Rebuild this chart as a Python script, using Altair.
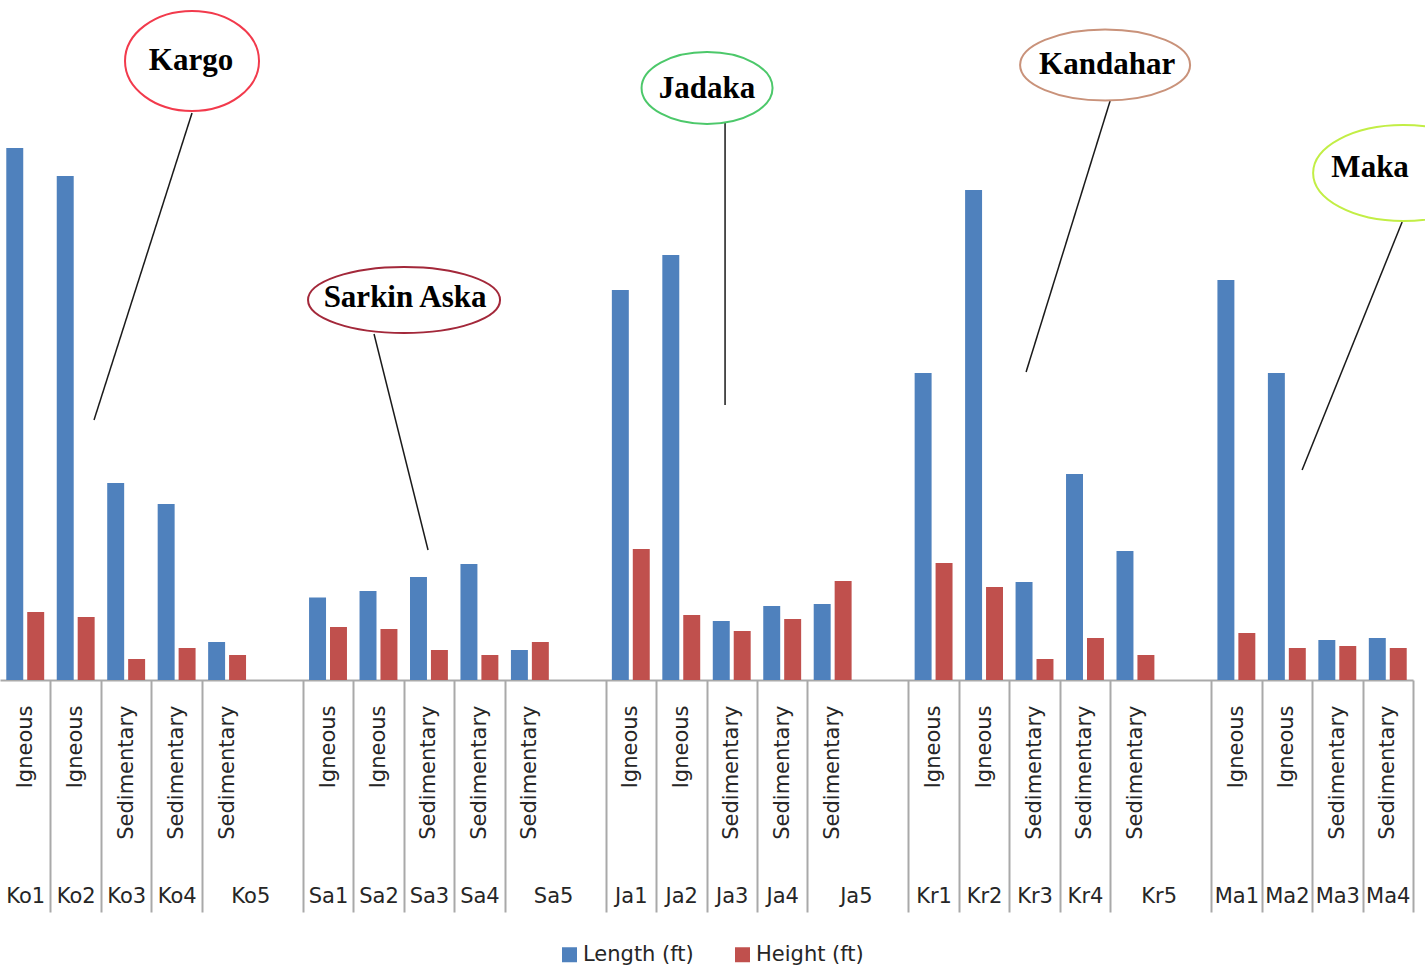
import json
import altair as alt
import pandas as pd

# ---------------- data ----------------
sites = ["Ko1", "Ko2", "Ko3", "Ko4", "Ko5",
         "Sa1", "Sa2", "Sa3", "Sa4", "Sa5",
         "Ja1", "Ja2", "Ja3", "Ja4", "Ja5",
         "Kr1", "Kr2", "Kr3", "Kr4", "Kr5",
         "Ma1", "Ma2", "Ma3", "Ma4"]
rock_types = ["Igneous", "Igneous", "Sedimentary", "Sedimentary", "Sedimentary",
              "Igneous", "Igneous", "Sedimentary", "Sedimentary", "Sedimentary",
              "Igneous", "Igneous", "Sedimentary", "Sedimentary", "Sedimentary",
              "Igneous", "Igneous", "Sedimentary", "Sedimentary", "Sedimentary",
              "Igneous", "Igneous", "Sedimentary", "Sedimentary"]
length_ft = [106.4, 100.8, 39.4, 35.2, 7.6,
             16.5, 17.8, 20.6, 23.2, 6.0,
             78.0, 85.0, 11.8, 14.8, 15.2,
             61.4, 98.0, 19.6, 41.2, 25.8,
             80.0, 61.4, 8.0, 8.4]
height_ft = [13.6, 12.6, 4.2, 6.4, 5.0,
             10.6, 10.2, 6.0, 5.0, 7.6,
             26.2, 13.0, 9.8, 12.2, 19.8,
             23.4, 18.6, 4.2, 8.4, 5.0,
             9.4, 6.4, 6.8, 6.4]
series = ["Length (ft)", "Height (ft)"]
series_colors = ["#4f81bd", "#c0504d"]

# location call-outs
locations = ["Kargo", "Sarkin Aska", "Jadaka", "Kandahar", "Maka"]
loc_colors = ["#f23a4c", "#a3283a", "#4cc86a", "#c9927a", "#c2ee45"]

# ---------------- layout (slot units on x, feet on y) ----------------
SLOT = 50.46
W, H = 1413, 680
YMAX = 136.0

def ux(px):
    return px / SLOT

def vy(py):
    return (H - py) * YMAX / H

ell_center = [(192, 61), (404, 300), (707, 88), (1105, 65), (1403, 173)]
ell_radii = [(67, 50), (96, 33), (65.5, 36), (85, 35.5), (90, 48)]
txt_center = [(191, 61), (405, 298), (707, 89), (1107, 65), (1370, 168)]
callouts = [((192, 113), (94, 420)), ((374, 334), (428, 550)), ((725, 122), (725, 405)),
            ((1110, 101), (1026, 372)), ((1402, 222), (1302, 470))]

# ---------------- tables ----------------
slots = []
inner_labels = []
outer_labels = []
gaps = []
fifths = []
for i, s in enumerate(sites):
    slots.append(s)
    inner_labels.append(rock_types[i])
    outer_labels.append(s)
    if i % 5 == 4 and i < 20:
        g = f"gap{i // 5 + 1}"
        slots.append(g)
        inner_labels.append("")
        outer_labels.append("")
        gaps.append(g)
        fifths.append(s)

rows = []
for i, s in enumerate(sites):
    rows.append({"slot": s, "series": series[0], "value": length_ft[i]})
    rows.append({"slot": s, "series": series[1], "value": height_ft[i]})
df = pd.DataFrame(rows)

ell_df = pd.DataFrame({
    "name": locations,
    "u": [ux(c[0]) for c in ell_center],
    "v": [vy(c[1]) for c in ell_center],
    "sz": [(2 * r[0]) ** 2 for r in ell_radii],
    "col": loc_colors,
})
ell_paths = [f"M-1,0A1,{r[1] / r[0]:.4f} 0 1,0 1,0A1,{r[1] / r[0]:.4f} 0 1,0 -1,0Z" for r in ell_radii]
txt_df = pd.DataFrame({
    "name": locations,
    "u": [ux(c[0]) for c in txt_center],
    "v": [vy(c[1]) for c in txt_center],
})
rule_df = pd.DataFrame({
    "u": [ux(a[0]) for a, b in callouts],
    "v": [vy(a[1]) for a, b in callouts],
    "u2": [ux(b[0]) for a, b in callouts],
    "v2": [vy(b[1]) for a, b in callouts],
})

# ---------------- scales / axes ----------------
xscale = alt.Scale(domain=slots, paddingInner=0, paddingOuter=0)
yscale = alt.Scale(domain=[0, YMAX], nice=False, zero=True)
uscale = alt.Scale(domain=[0, len(slots)], nice=False, zero=True)

slots_js = json.dumps(slots)
inner_expr = f"{json.dumps(inner_labels)}[indexof({slots_js}, datum.value)]"
outer_expr = f"{json.dumps(outer_labels)}[indexof({slots_js}, datum.value)]"
hide_ticks = json.dumps(fifths)

inner_axis = alt.Axis(
    title=None, labelExpr=inner_expr, labelAngle=270,
    labelFont="DejaVu Sans", labelFontSize=21, labelColor="#262626",
    labelPadding=-207, labelOverlap=False,
    tickBand="extent", tickSize=232, tickWidth=2, tickColor="#a9a9a9",
    tickOpacity={"condition": {"test": f"indexof({hide_ticks}, datum.value) >= 0 || datum.extra", "value": 0}, "value": 1},
    domainColor="#a9a9a9", domainWidth=2,
)
outer_axis = alt.Axis(
    orient="bottom", title=None, labelExpr=outer_expr, labelAngle=0,
    labelFont="DejaVu Sans", labelFontSize=21, labelColor="#262626",
    labelPadding=205, labelOverlap=False, ticks=False, domain=False,
    labelOffset={"condition": {"test": f"indexof({json.dumps(fifths)}, datum.value) >= 0", "value": SLOT / 2 - 2}, "value": 0},
)

bars = alt.Chart(df).mark_bar().encode(
    x=alt.X("slot:N", scale=xscale, axis=inner_axis),
    xOffset=alt.XOffset("series:N", sort=series,
                        scale=alt.Scale(domain=series, paddingInner=0.19, paddingOuter=0.3)),
    y=alt.Y("value:Q", scale=yscale, axis=None),
    color=alt.Color("series:N", sort=series,
                    scale=alt.Scale(domain=series, range=series_colors),
                    legend=alt.Legend(orient="none", legendX=559, legendY=944,
                                      direction="horizontal", title=None,
                                      symbolType="square", symbolSize=225,
                                      symbolStrokeWidth=0, labelOffset=3,
                                      columnPadding=38,
                                      labelFont="DejaVu Sans", labelFontSize=21,
                                      labelColor="#262626")),
)

outer = alt.Chart(df).mark_point(opacity=0).encode(
    x=alt.X("slot:N", scale=xscale, axis=outer_axis),
    y=alt.Y("value:Q", scale=yscale, axis=None),
)

ellipses = alt.Chart(ell_df).mark_point(filled=False, strokeWidth=2, opacity=1).encode(
    x=alt.X("u:Q", scale=uscale, axis=None),
    y=alt.Y("v:Q", scale=yscale, axis=None),
    shape=alt.Shape("name:N", scale=alt.Scale(domain=locations, range=ell_paths), legend=None),
    size=alt.Size("sz:Q", scale=None, legend=None),
    stroke=alt.Stroke("col:N", scale=None, legend=None),
)

rules = alt.Chart(rule_df).mark_rule(color="#1a1a1a", strokeWidth=1.5).encode(
    x=alt.X("u:Q", scale=uscale, axis=None),
    x2="u2:Q",
    y=alt.Y("v:Q", scale=yscale, axis=None),
    y2="v2:Q",
)

texts = alt.Chart(txt_df).mark_text(font="Liberation Serif", fontWeight="bold",
                                    fontSize=31, color="#000000").encode(
    x=alt.X("u:Q", scale=uscale, axis=None),
    y=alt.Y("v:Q", scale=yscale, axis=None),
    text="name:N",
)

chart = alt.layer(bars, outer, rules, ellipses, texts).resolve_scale(
    x="independent"
).properties(
    width=W, height=H,
    autosize=alt.AutoSizeParams(type="none"),
    padding={"left": 0, "top": 0, "right": 1425 - W, "bottom": 966 - H},
    background="white",
).configure_view(strokeWidth=0)

chart.save("out.html", embed_options={"renderer": "svg", "actions": False})
